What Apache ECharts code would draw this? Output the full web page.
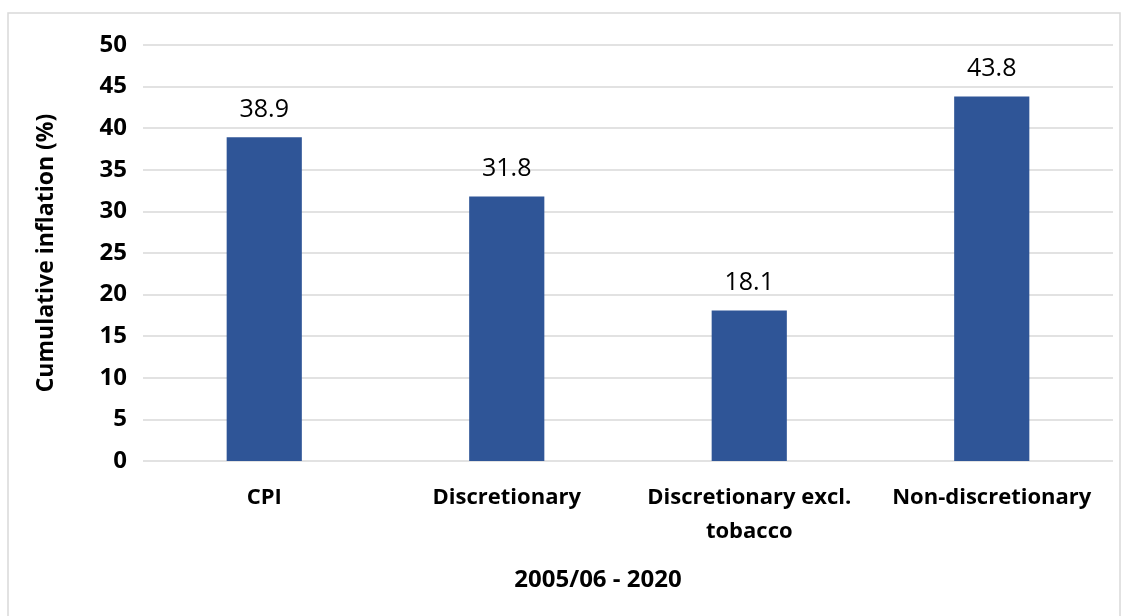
<!DOCTYPE html>
<html>
<head>
<meta charset="utf-8">
<script src="https://cdn.jsdelivr.net/npm/echarts@6/dist/echarts.min.js"></script>
<style>
  html, body { margin: 0; padding: 0; background: #fff; }
  #chart { width: 1128px; height: 616px; }
</style>
</head>
<body>
<div id="chart"></div>
<script>
// data
const categories = ["CPI", "Discretionary", "Discretionary excl.\ntobacco", "Non-discretionary"];
const inflation = [38.9, 31.8, 18.1, 43.8];

const font = "'Open Sans', 'Liberation Sans', sans-serif";
const chart = echarts.init(document.getElementById("chart"));

chart.setOption({
  animation: false,
  textStyle: { fontFamily: font },
  grid: { left: 143, right: 15, top: 45, bottom: 155 },
  xAxis: {
    type: "category",
    data: categories,
    axisLine: { show: false },
    axisTick: { show: false },
    axisLabel: {
      interval: 0, hideOverlap: false,
      color: "#000", fontSize: 22, fontWeight: "bold", margin: 20,
      lineHeight: 34, fontFamily: font
    }
  },
  yAxis: {
    type: "value",
    min: 0, max: 50, interval: 5,
    name: "Cumulative inflation (%)",
    nameLocation: "middle",
    nameGap: 85,
    nameTextStyle: { color: "#000", fontSize: 23, fontWeight: "bold", fontFamily: font },
    axisLine: { show: false },
    axisTick: { show: false },
    axisLabel: { color: "#000", fontSize: 24, fontWeight: "bold", margin: 16, fontFamily: font },
    splitLine: { lineStyle: { color: "#d9d9d9", width: 1.5 } }
  },
  series: [{
    type: "bar",
    data: inflation,
    barWidth: "31%",
    itemStyle: { color: "#2F5597" },
    label: {
      show: true, position: "top", distance: 15,
      color: "#000", fontSize: 25, fontFamily: font,
      formatter: (p) => p.value.toFixed(1)
    }
  }],
  graphic: [
    {
      type: "rect",
      shape: { x: 8, y: 13, width: 1112, height: 620 },
      style: { fill: "none", stroke: "#d9d9d9", lineWidth: 1.5 },
      silent: true
    },
    {
      type: "text",
      x: 598, y: 580,
      style: {
        text: "2005/06 - 2020", fill: "#000", fontSize: 24, fontWeight: "bold",
        fontFamily: font, align: "center", verticalAlign: "middle"
      }
    }
  ]
});
</script>
</body>
</html>
